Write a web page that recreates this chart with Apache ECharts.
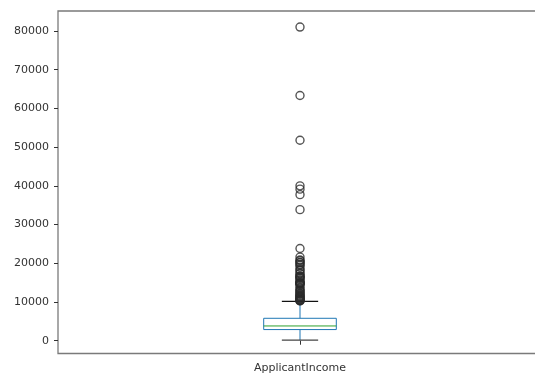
<!DOCTYPE html>
<html>
<head>
<meta charset="utf-8">
<script src="https://cdn.jsdelivr.net/npm/echarts@6/dist/echarts.min.js"></script>
<style>
  html, body { margin: 0; padding: 0; background: #fff; overflow: hidden; }
  #chart { width: 542px; height: 376px; }
</style>
</head>
<body>
<div id="chart"></div>
<script>
// Category on the x axis
const categories = ['ApplicantIncome'];

// Box statistics: lower whisker, Q1, median, Q3, upper whisker
const whiskerLow = 150;
const q1 = 2878;
const median = 3812;
const q3 = 5795;
const whiskerHigh = 10171;

// Values beyond the upper whisker, drawn as hollow circles
const outliers = [
  81000, 63337, 51763, 39999, 39147, 37719, 33846, 23803,
  21600, 20833, 20667, 20233, 20166, 19730, 19484, 19000,
  18333, 18165, 17500, 17263, 16692, 16666, 16525, 16250,
  16120, 15759, 15400, 15000, 14999, 14880, 14866, 14683,
  14583, 14200, 13650, 13262, 12876, 12841, 12500, 12200,
  12000, 11757, 11500, 11417, 11250, 11146, 10833, 10750,
  10513, 10416, 10408, 10383, 10247
];

// Y axis tick labels
const yTicks = [0, 10000, 20000, 30000, 40000, 50000, 60000, 70000, 80000];

const chart = echarts.init(document.getElementById('chart'));

const boxData = [[0, whiskerLow, q1, median, q3, whiskerHigh]];

chart.setOption({
  animation: false,
  backgroundColor: '#ffffff',
  textStyle: { fontFamily: 'DejaVu Sans' },
  grid: {
    left: 58, top: 11, right: 0, bottom: 22.5,
    show: true, borderColor: '#7a7a7a', borderWidth: 1.3,
    backgroundColor: 'transparent'
  },
  xAxis: {
    type: 'category',
    data: categories,
    boundaryGap: true,
    axisLine: { show: false },
    axisTick: { show: true, alignWithLabel: true, length: 4, lineStyle: { color: '#333', width: 1 } },
    axisLabel: { color: '#333', fontSize: 11, margin: 9 },
    splitLine: { show: false }
  },
  yAxis: {
    type: 'value',
    min: -3300,
    max: 85150,
    axisLine: { show: false },
    axisTick: { show: true, length: 4, customValues: yTicks, lineStyle: { color: '#333', width: 1 } },
    axisLabel: {
      color: '#333', fontSize: 11, margin: 9, customValues: yTicks,
      formatter: function (v) { return String(v); }
    },
    splitLine: { show: false }
  },
  series: [
    {
      type: 'custom',
      data: boxData,
      encode: { x: 0, y: [1, 2, 3, 4, 5] },
      renderItem: function (params, api) {
        const xc = api.coord([api.value(0), 0])[0];
        const band = api.size([1, 0])[0];
        const half = band * 0.15 / 2;
        const capHalf = half / 2;
        const yLo = api.coord([0, api.value(1)])[1];
        const yQ1 = api.coord([0, api.value(2)])[1];
        const yMed = api.coord([0, api.value(3)])[1];
        const yQ3 = api.coord([0, api.value(4)])[1];
        const yHi = api.coord([0, api.value(5)])[1];
        const blue = '#1f77b4';
        return {
          type: 'group',
          children: [
            { type: 'line', shape: { x1: xc, y1: yQ1, x2: xc, y2: yLo }, style: { stroke: blue, lineWidth: 1 } },
            { type: 'line', shape: { x1: xc, y1: yQ3, x2: xc, y2: yHi }, style: { stroke: blue, lineWidth: 1 } },
            { type: 'rect', shape: { x: xc - half, y: yQ3, width: half * 2, height: yQ1 - yQ3 }, style: { fill: 'none', stroke: blue, lineWidth: 1 } },
            { type: 'line', shape: { x1: xc - half, y1: yMed, x2: xc + half, y2: yMed }, style: { stroke: '#2ca02c', lineWidth: 1 } },
            { type: 'line', shape: { x1: xc - capHalf, y1: yLo, x2: xc + capHalf, y2: yLo }, style: { stroke: '#444', lineWidth: 1.2 } },
            { type: 'line', shape: { x1: xc - capHalf, y1: yHi, x2: xc + capHalf, y2: yHi }, style: { stroke: '#111', lineWidth: 1.2 } }
          ]
        };
      },
      z: 2
    },
    {
      type: 'scatter',
      data: outliers.map(function (v) { return [0, v]; }),
      symbol: 'circle',
      symbolSize: 8,
      itemStyle: { color: 'rgba(0,0,0,0)', borderColor: '#2a2a2a', borderWidth: 1.4 },
      z: 3
    }
  ]
});
</script>
</body>
</html>
